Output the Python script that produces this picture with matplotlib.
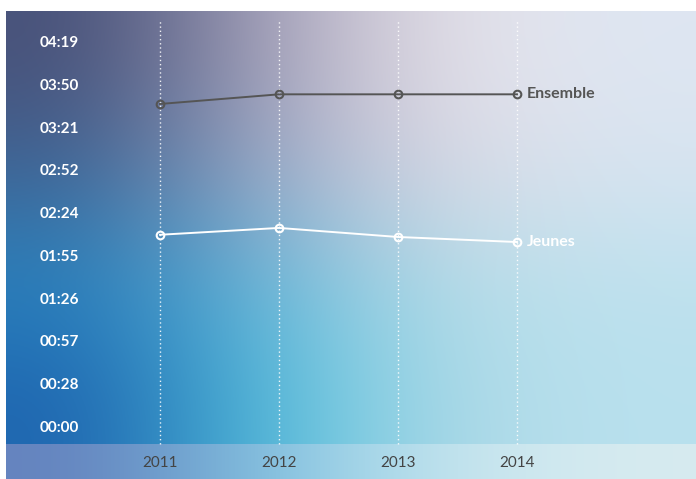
import matplotlib
matplotlib.use("Agg")
import matplotlib.pyplot as plt
import matplotlib.transforms as mtransforms
import numpy as np

plt.rcParams["font.family"] = ["Lato", "DejaVu Sans"]

# data (minutes)
years = [2011, 2012, 2013, 2014]
ensemble = [218.3, 224.8, 224.8, 224.8]
jeunes = [130.1, 134.7, 128.6, 125.2]
series_names = ["Ensemble", "Jeunes"]

ytick_values = [0, 28.8, 57.6, 86.4, 115.2, 144.0, 172.8, 201.6, 230.4, 259.2]
ytick_labels = ["00:00", "00:28", "00:57", "01:26", "01:55",
                "02:24", "02:52", "03:21", "03:50", "04:19"]

# background colour grid (rows top -> bottom)
BG = np.array([
    [(70, 80, 120), (165, 160, 185), (230, 225, 232), (222, 230, 242)],
    [(60, 100, 150), (155, 170, 200), (218, 216, 228), (215, 228, 240)],
    [(40, 130, 190), (105, 185, 218), (182, 221, 232), (190, 225, 238)],
    [(30, 100, 175), (75, 190, 220), (172, 216, 230), (185, 225, 238)],
]) / 255.0
BAND = np.array([
    [(100, 130, 190), (125, 195, 225), (195, 228, 238), (215, 235, 240)],
]) / 255.0

W, H = 696, 479
fig = plt.figure(figsize=(W / 100, H / 100), dpi=100)
fig.patch.set_facecolor("white")

# axes spans from px (6, 11) to (696, 479)
ax = fig.add_axes([6 / W, 0, 690 / W, 468 / H])
for s in ax.spines.values():
    s.set_visible(False)
ax.set_xticks([])
ax.set_yticks([])

px_per_min = (427.7 - 43.3) / 259.2
ax.set_ylim((427.7 - 479) / px_per_min, (427.7 - 11) / px_per_min)
ax.set_xlim(2011 - (160 - 6) / 119, 2014 + (696 - 517) / 119)

band_top = (479 - 444) / 468
ax.imshow(BG, extent=[0, 1, band_top, 1], transform=ax.transAxes,
          aspect="auto", interpolation="bicubic", zorder=0)
ax.imshow(BAND, extent=[0, 1, 0, band_top], transform=ax.transAxes,
          aspect="auto", interpolation="bicubic", zorder=0)

trans = mtransforms.blended_transform_factory(ax.transData, ax.transAxes)
ax.vlines(years, band_top, (479 - 20) / 468, transform=trans,
          colors="white", linestyles=(0, (1, 2)), lw=1.0, alpha=0.9, zorder=1)

ax.plot(years, ensemble, color="#555555", lw=1.4, marker="o", ms=5.5,
        mfc="none", mec="#555555", mew=1.5, zorder=3)
ax.plot(years, jeunes, color="white", lw=1.4, marker="o", ms=5.5,
        mfc="none", mec="white", mew=1.5, zorder=3)

ax.text(years[-1] + 0.085, ensemble[-1], series_names[0], color="#555555",
        fontsize=11.5, fontweight="bold", va="center", ha="left")
ax.text(years[-1] + 0.085, jeunes[-1], series_names[1], color="white",
        fontsize=11.5, fontweight="bold", va="center", ha="left")

ytrans = mtransforms.blended_transform_factory(ax.transAxes, ax.transData)
for v, lab in zip(ytick_values, ytick_labels):
    ax.text((79 - 6) / 690, v, lab, transform=ytrans, color="white",
            fontsize=11, fontweight="bold", ha="right", va="center")

for yr in years:
    ax.text(yr, (479 - 463) / 468, str(yr), transform=trans, color="#444444",
            fontsize=11, ha="center", va="center")

fig.savefig("out.png", dpi=100)
